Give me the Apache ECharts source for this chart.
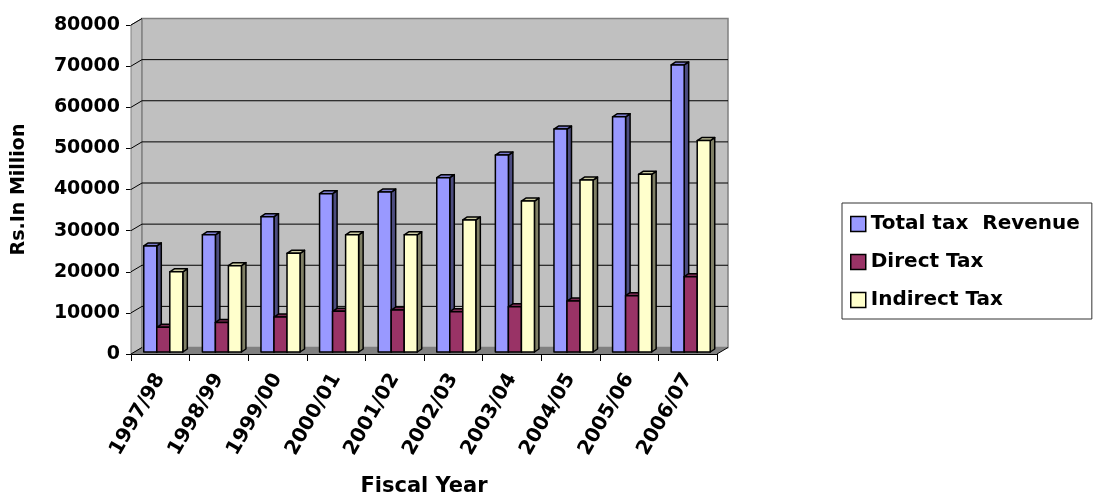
<!DOCTYPE html>
<html>
<head>
<meta charset="utf-8">
<script src="https://cdn.jsdelivr.net/npm/echarts@6/dist/echarts.min.js"></script>
<style>
html,body{margin:0;padding:0;background:#fff;}
#chart{width:1094px;height:493px;}
</style>
</head>
<body>
<div id="chart"></div>
<script>
// ---- data ----
const years = ['1997/98','1998/99','1999/00','2000/01','2001/02','2002/03','2003/04','2004/05','2005/06','2006/07'];
const totalRevenue = [25800, 28500, 32900, 38500, 38900, 42400, 47900, 54200, 57200, 69800];
const directTax    = [6000, 7200, 8500, 9900, 10200, 9800, 11000, 12400, 13700, 18300];
const indirectTax  = [19500, 21000, 24000, 28500, 28500, 32100, 36700, 41800, 43200, 51400];
const yTicks = [0, 10000, 20000, 30000, 40000, 50000, 60000, 70000, 80000];
const seriesNames = ['Total tax  Revenue', 'Direct Tax', 'Indirect Tax'];

// ---- styling ----
const FONT = 'DejaVu Sans';
const DX = 11, DY = -6.5;      // wall depth offset
const FX = 3, FY = -2;         // bar position inside depth
const BDX = 4.5, BDY = -3;     // bar depth
const faces = [
  {front:'#9999ff', top:'#7a7acc', side:'#4d4d80'},
  {front:'#993366', top:'#7a2952', side:'#4d1a33'},
  {front:'#ffffcc', top:'#cccca3', side:'#808066'}
];

function wallsRender(params, api) {
  const c0 = api.coord([0, 0]);
  const band = api.size([1, 0])[0];
  const x0 = c0[0] - band / 2;
  const x1 = x0 + band * years.length;
  const yB = c0[1];
  const yT = api.coord([0, yTicks[yTicks.length - 1]])[1];
  const children = [];
  children.push({type:'polygon', shape:{points:[[x0,yT],[x0+DX,yT+DY],[x0+DX,yB+DY],[x0,yB]]},
    style:{fill:'#c0c0c0', stroke:'#808080', lineWidth:1}});
  children.push({type:'rect', shape:{x:x0+DX, y:yT+DY, width:x1-x0, height:yB-yT},
    style:{fill:'#c0c0c0', stroke:'#808080', lineWidth:1.5}});
  children.push({type:'polygon', shape:{points:[[x0,yB],[x1,yB],[x1+DX,yB+DY],[x0+DX,yB+DY]]},
    style:{fill:'#808080', stroke:null}});
  children.push({type:'line', shape:{x1:x1, y1:yB, x2:x1+DX, y2:yB+DY},
    style:{stroke:'#000', lineWidth:1}});
  yTicks.forEach(function (v, i) {
    const y = api.coord([0, v])[1];
    if (i > 0 && i < yTicks.length - 1) {
      children.push({type:'line', shape:{x1:x0+DX, y1:y+DY, x2:x1+DX, y2:y+DY},
        style:{stroke:'#000', lineWidth:1}});
    }
    children.push({type:'line', shape:{x1:x0, y1:y, x2:x0+DX, y2:y+DY},
      style:{stroke:'#000', lineWidth:1}});
  });
  return {type:'group', children:children};
}

function barRender(si) {
  return function (params, api) {
    const c = api.value(0), v = api.value(1);
    const p = api.coord([c, v]);
    const b = api.coord([c, 0]);
    const band = api.size([1, 0])[0];
    const w = band / 4.5;
    const x = p[0] - band / 2 + 0.75 * w + si * w + FX;
    const top = p[1] + FY;
    const bot = b[1] + FY;
    const f = faces[si];
    const st = {stroke:'#000', lineWidth:1.5, lineJoin:'round'};
    return {type:'group', children:[
      {type:'polygon', shape:{points:[[x+w,top],[x+w+BDX,top+BDY],[x+w+BDX,bot+BDY],[x+w,bot]]},
        style:Object.assign({fill:f.side}, st)},
      {type:'polygon', shape:{points:[[x,top],[x+BDX,top+BDY],[x+w+BDX,top+BDY],[x+w,top]]},
        style:Object.assign({fill:f.top}, st)},
      {type:'rect', shape:{x:x, y:top, width:w, height:bot-top},
        style:Object.assign({fill:f.front}, st)}
    ]};
  };
}

function toPairs(arr) { return arr.map(function (v, i) { return [i, v]; }); }

const chart = echarts.init(document.getElementById('chart'), null, {renderer:'canvas'});
chart.setOption({
  animation:false,
  backgroundColor:'#ffffff',
  textStyle:{fontFamily:FONT},
  grid:{left:131, right:377, top:25, bottom:139, containLabel:false, outerBoundsMode:'none'},
  legend:{
    orient:'vertical', left:842, top:203,
    data:seriesNames,
    icon:'rect', itemWidth:15, itemHeight:15, itemGap:18,
    padding:[11, 12, 9, 8],
    borderColor:'#333', borderWidth:1,
    itemStyle:{borderColor:'#000', borderWidth:1.5},
    textStyle:{fontFamily:FONT, fontWeight:'bold', fontSize:20, color:'#000', lineHeight:20}
  },
  xAxis:{
    type:'category', data:years, boundaryGap:true,
    name:'Fiscal Year', nameLocation:'middle', nameGap:122,
    nameTextStyle:{fontFamily:FONT, fontWeight:'bold', fontSize:21, color:'#000'},
    axisLine:{show:true, lineStyle:{color:'#000', width:1}},
    axisTick:{show:true, interval:0, alignWithLabel:false, length:7, lineStyle:{color:'#000'}},
    axisLabel:{interval:0, rotate:60, margin:21, fontFamily:FONT, fontWeight:'bold', fontSize:20, color:'#000'},
    splitLine:{show:false}
  },
  yAxis:{
    type:'value', min:0, max:80000, interval:10000,
    name:'Rs.In Million', nameLocation:'middle', nameRotate:90, nameGap:102,
    nameTextStyle:{fontFamily:FONT, fontWeight:'bold', fontSize:19, color:'#000'},
    axisLine:{show:true, lineStyle:{color:'#000', width:1}},
    axisTick:{show:true, length:5, lineStyle:{color:'#000'}},
    axisLabel:{margin:11, fontFamily:FONT, fontWeight:'bold', fontSize:19, color:'#000',
      formatter:function (v) { return String(v); }},
    splitLine:{show:false}
  },
  series:[
    {type:'custom', name:'_walls', z:1, silent:true, data:[[0,0]], renderItem:wallsRender, legendHoverLink:false},
    {type:'custom', name:seriesNames[0], z:2, data:toPairs(totalRevenue), renderItem:barRender(0), itemStyle:{color:faces[0].front}, encode:{x:0,y:1}},
    {type:'custom', name:seriesNames[1], z:2, data:toPairs(directTax), renderItem:barRender(1), itemStyle:{color:faces[1].front}, encode:{x:0,y:1}},
    {type:'custom', name:seriesNames[2], z:2, data:toPairs(indirectTax), renderItem:barRender(2), itemStyle:{color:faces[2].front}, encode:{x:0,y:1}}
  ]
});
</script>
</body>
</html>
